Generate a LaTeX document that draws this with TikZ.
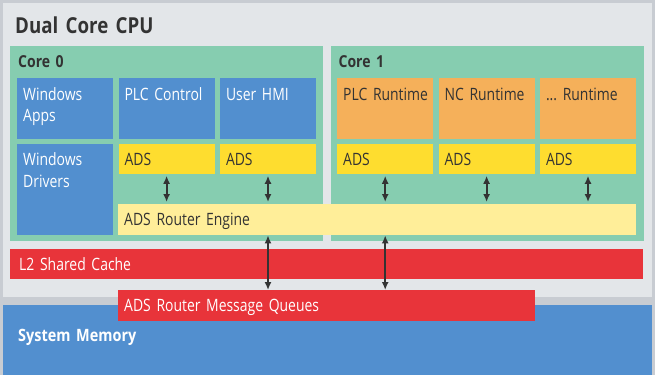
\documentclass[tikz,border=0pt]{standalone}
\usepackage{fontspec}
\setmainfont{Open Sans}[FakeStretch=0.82, WordSpace=0.8, BoldFeatures={FakeStretch=0.85}]
\frenchspacing
\hyphenpenalty=10000
\exhyphenpenalty=10000
\usetikzlibrary{positioning,arrows.meta}
\definecolor{framegray}{HTML}{C8CCD2}
\definecolor{cpugray}{HTML}{E3E6E9}
\definecolor{coregreen}{HTML}{86CDB0}
\definecolor{winblue}{HTML}{528FCF}
\definecolor{rtorange}{HTML}{F5B05A}
\definecolor{adsyellow}{HTML}{FEDD2F}
\definecolor{routeryellow}{HTML}{FFEE99}
\definecolor{cachered}{HTML}{E8343A}
\definecolor{textgray}{HTML}{333333}
\tikzset{
  blk/.style={anchor=north west, inner xsep=6pt, inner ysep=0pt, align=left,
    text height=22pt, text=textgray, font=\fontsize{17}{21.5}\selectfont},
  win/.style={blk, fill=winblue, text=white, text width=84pt, text depth=39pt},  % 96x61
  drv/.style={win, text depth=69pt},                                          % 96x91
  rt/.style={blk, fill=rtorange, text width=84pt, text depth=39pt},            % 96x61
  ads/.style={blk, fill=adsyellow, text width=84pt, text depth=8pt},           % 96x30
  core/.style={blk, fill=coregreen, inner xsep=8pt, text width=297pt,
    text height=21.7pt, text depth=173.3pt, font=\bfseries\fontsize{16.5}{20}\selectfont},
  link/.style={{Latex[length=8pt,width=7pt]}-{Latex[length=8pt,width=7pt]},
    line width=2pt, draw=textgray}
}

\begin{document}
\begin{tikzpicture}[x=1pt, y=-1pt]
  \useasboundingbox (0,0) rectangle (655,375);
  \fill[framegray] (0,0) rectangle (655,375);

  % CPU and memory
  \node (cpu) [blk, fill=cpugray, inner xsep=12pt, text width=625pt, text height=30pt,
    text depth=264pt, font=\bfseries\fontsize{22}{26}\selectfont] at (3,3) {Dual Core CPU};
  \node (mem) [blk, fill=winblue, text=white, inner xsep=15pt, text width=619pt, text height=36.5pt,
    text depth=33.5pt, font=\bfseries\fontsize{17}{21}\selectfont] at (3,305) {System Memory};

  % Core 0
  \node (core0) [core] at (10,46) {Core 0};
  \node (wapps) [win] at (17,78) {Windows\\Apps};
  \node (plc) [win, right=5pt of wapps] {PLC Control};
  \node (hmi) [win, right=5pt of plc] {User HMI};
  \node (wdrv) [drv, below=4pt of wapps] {Windows\\Drivers};
  \node (ads1) [ads, below=4pt of plc] {ADS};
  \node (ads2) [ads, below=4pt of hmi] {ADS};

  % Core 1
  \node (core1) [core, right=7pt of core0] {Core 1};
  \node (plcrt) [rt] at (337,78) {PLC~Runtime};
  \node (ncrt) [rt, right=5pt of plcrt] {NC~Runtime};
  \node (xrt) [rt, right=5pt of ncrt] {...~Runtime};
  \node (ads3) [ads, below=4pt of plcrt] {ADS};
  \node (ads4) [ads, below=4pt of ncrt] {ADS};
  \node (ads5) [ads, below=4pt of xrt] {ADS};

  % router, cache, queues
  \node (router) [blk, fill=routeryellow, text width=506pt, text height=21.5pt, text depth=9.5pt]
    at (118,204) {ADS Router Engine};
  \node (l2) [blk, fill=cachered, text=white, inner xsep=9pt, text width=615pt, text height=21.5pt,
    text depth=8.5pt] at (10,249) {L2 Shared Cache};
  \node (mq) [blk, fill=cachered, text=white, text width=405pt, text height=21pt, text depth=10pt]
    at (118,290) {ADS Router Message Queues};

  % arrows
  \foreach \a in {ads1,ads2,ads3,ads4,ads5}
    \draw[link, shorten <=2pt, shorten >=2pt] (\a.south) -- (\a.south |- router.north);
  \draw[link] (ads2.south |- router.south) -- (ads2.south |- mq.north);
  \draw[link] (ads3.south |- router.south) -- (ads3.south |- mq.north);
\end{tikzpicture}
\end{document}
